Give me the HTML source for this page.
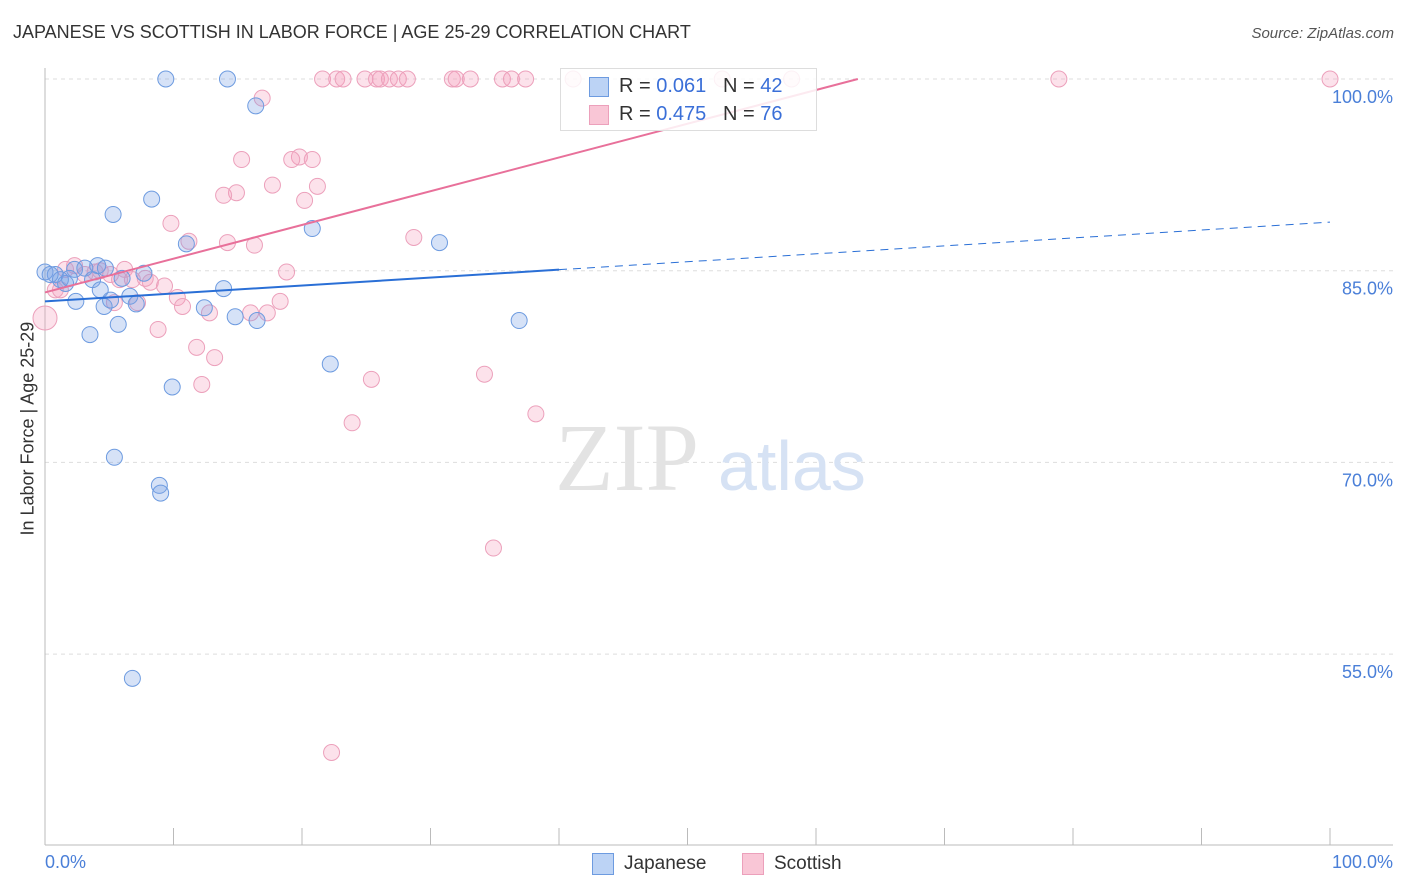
<!DOCTYPE html>
<html><head><meta charset="utf-8"><style>
body{margin:0;background:#fff;font-family:"Liberation Sans",sans-serif}
#wrap{position:relative;width:1406px;height:892px;overflow:hidden}
.t{position:absolute;white-space:nowrap}
</style></head><body>
<div id="wrap">
<div class="t" style="left:13px;top:22px;font-size:18px;color:#333">JAPANESE VS SCOTTISH IN LABOR FORCE | AGE 25-29 CORRELATION CHART</div>
<div class="t" style="right:12px;top:25px;font-size:15px;color:#555;font-style:italic">Source: ZipAtlas.com</div>
<div class="t" style="left:-52px;top:445px;font-size:18px;color:#333;transform:rotate(-90deg);width:160px;text-align:center">In Labor Force | Age 25-29</div>
<svg id="svg" width="1406" height="892" style="position:absolute;left:0;top:0"></svg>
</div>
<script>
const jpX=[9.4,14.2,16.4,8.3,5.3,20.8,11.0,30.7,0,0.8,1.2,1.6,2.3,3.1,4.1,4.7,3.7,4.3,2.4,4.6,6.6,7.7,6.0,7.1,13.9,12.4,14.8,16.5,36.9,5.7,3.5,22.2,9.9,5.4,8.9,9.0,6.8,0.4,1.9,5.1];
const jpY=[100,100,97.9,90.6,89.4,88.3,87.1,87.2,84.9,84.7,84.3,84.0,85.1,85.2,85.4,85.2,84.3,83.5,82.6,82.2,83.0,84.8,84.4,82.4,83.6,82.1,81.4,81.1,81.1,80.8,80.0,77.7,75.9,70.4,68.2,67.6,53.1,84.7,84.4,82.7];
const scX=[21.6,22.7,23.2,24.9,25.8,26.1,26.8,27.5,28.2,31.7,32.0,33.1,35.6,36.3,37.4,41.1,52.7,58.1,78.9,100,
16.9,15.3,19.8,20.8,19.2,17.7,21.2,14.9,13.9,20.2,9.8,11.2,14.2,16.3,28.7,18.8,0,0.8,1.6,2.3,3.1,3.9,5.1,6.2,6.8,8.2,9.3,10.3,10.7,12.8,16.0,17.3,18.3,7.2,5.4,8.8,11.8,13.2,12.2,25.4,34.2,38.2,23.9,34.9,22.3,1.2,4.3,5.8,7.8];
const scY=[100,100,100,100,100,100,100,100,100,100,100,100,100,100,100,100,100,100,100,100,
98.5,93.7,93.9,93.7,93.7,91.7,91.6,91.1,90.9,90.5,88.7,87.3,87.2,87.0,87.6,84.9,81.3,83.5,85.1,85.4,84.7,84.9,84.7,85.1,84.3,84.1,83.8,82.9,82.2,81.7,81.7,81.7,82.6,82.5,82.5,80.4,79.0,78.2,76.1,76.5,76.9,73.8,73.1,63.3,47.3,83.5,85.0,84.3,84.4];
const yTicks=[100,85,70,55];
const yTickLabels=["100.0%","85.0%","70.0%","55.0%"];
const jpTrend=[82.6,88.8]; // y at x=0, x=100
const scTrend=[83.3,109.7];
const X=v=>45+v*12.85, Y=v=>79+(100-v)*12.78;
const svg=document.getElementById('svg');const NS='http://www.w3.org/2000/svg';
function mk(t,a,name){const e=document.createElementNS(NS,t);for(const k in a)e.setAttribute(k,a[k]);


svg.appendChild(e);return e;}
yTicks.forEach((v,i)=>{mk('line',{x1:45,x2:1393,y1:Y(v),y2:Y(v),stroke:'#ddd','stroke-dasharray':'4,4'},'gridline');
const t=mk('text',{x:1393,y:Y(v)+24,'text-anchor':'end','font-size':18,fill:'#4a7fd8','font-family':'Liberation Sans'},'y-tick-label');t.textContent=yTickLabels[i];});
mk('line',{x1:45,x2:45,y1:68,y2:845,stroke:'#bbb'},'y-axis-line');
mk('line',{x1:45,x2:1393,y1:845,y2:845,stroke:'#bbb'},'x-axis-line');
for(let i=0;i<=10;i++)mk('line',{x1:X(i*10),x2:X(i*10),y1:828,y2:845,stroke:'#bbb'},'x-tick');
const wm=mk('text',{x:555,y:490,'font-size':96,fill:'#e3e3e3','font-family':'Liberation Serif'},'watermark-zip');wm.textContent='ZIP';
const wm2=mk('text',{x:718,y:490,'font-size':70,fill:'#d6e2f4','font-family':'Liberation Sans'},'watermark-atlas');wm2.textContent='atlas';
scX.forEach((v,i)=>mk('circle',{cx:X(v),cy:Y(scY[i]),r:i==36?12:8,fill:'rgba(244,160,190,0.3)',stroke:'#eca0bb','stroke-width':1},'scottish-point'));
jpX.forEach((v,i)=>mk('circle',{cx:X(v),cy:Y(jpY[i]),r:8,fill:'rgba(120,160,230,0.3)',stroke:'#6d9be0','stroke-width':1},'japanese-point'));
const jy=x=>jpTrend[0]+(jpTrend[1]-jpTrend[0])*x/100;
mk('line',{x1:X(0),y1:Y(jy(0)),x2:X(40),y2:Y(jy(40)),stroke:'#2a6fd6','stroke-width':2},'japanese-trend');
mk('line',{x1:X(40),y1:Y(jy(40)),x2:X(100),y2:Y(jy(100)),stroke:'#2a6fd6','stroke-width':1,'stroke-dasharray':'8,6'},'japanese-trend-ext');
const sSl=(scTrend[1]-scTrend[0])/100;const xEnd=(100-scTrend[0])/sSl;
mk('line',{x1:X(0),y1:Y(scTrend[0]),x2:X(xEnd),y2:Y(100),stroke:'#e8709a','stroke-width':2},'scottish-trend');
</script>
<div style="position:absolute;left:560px;top:68px;width:255px;height:61px;border:1px solid #ddd;background:rgba(255,255,255,0.85)">
<div style="position:absolute;left:28px;top:8px;width:18px;height:18px;background:#bcd3f5;border:1px solid #6d9be0"></div>
<div class="t" style="left:58px;top:6px;font-size:20px;color:#333">R = <span style="color:#3a6fd8">0.061</span>&nbsp;&nbsp;&nbsp;N = <span style="color:#3a6fd8">42</span></div>
<div style="position:absolute;left:28px;top:36px;width:18px;height:18px;background:#f9c6d6;border:1px solid #eca0bb"></div>
<div class="t" style="left:58px;top:34px;font-size:20px;color:#333">R = <span style="color:#3a6fd8">0.475</span>&nbsp;&nbsp;&nbsp;N = <span style="color:#3a6fd8">76</span></div>
</div>
<div class="t" style="left:45px;top:852px;font-size:18px;color:#4a7fd8">0.0%</div>
<div class="t" style="right:13px;top:852px;font-size:18px;color:#4a7fd8">100.0%</div>
<div style="position:absolute;left:592px;top:853px;width:20px;height:20px;background:#bcd3f5;border:1px solid #6d9be0"></div>
<div class="t" style="left:624px;top:853px;font-size:19px;color:#333">Japanese</div>
<div style="position:absolute;left:742px;top:853px;width:20px;height:20px;background:#f9c6d6;border:1px solid #eca0bb"></div>
<div class="t" style="left:774px;top:853px;font-size:19px;color:#333">Scottish</div>
</body></html>
